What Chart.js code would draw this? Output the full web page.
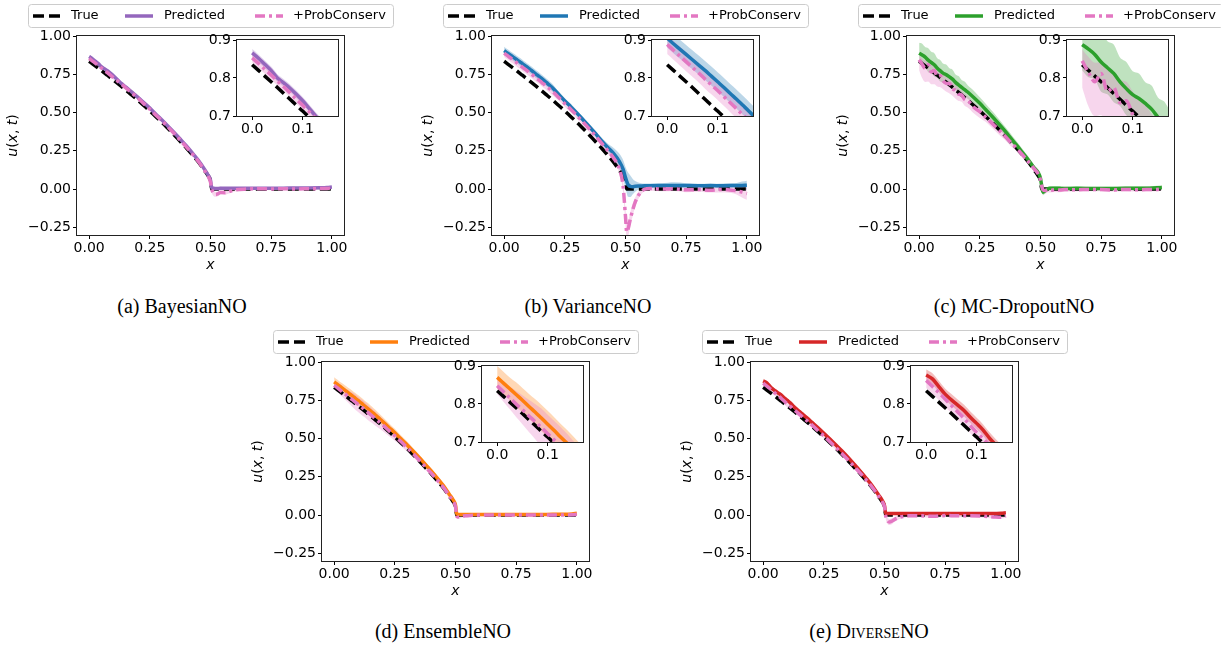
<!DOCTYPE html>
<html>
<head>
<meta charset="utf-8">
<script src="https://cdn.jsdelivr.net/npm/chart.js@4.4.1/dist/chart.umd.min.js"></script>
<style>
  html, body { margin: 0; padding: 0; background: #fff; width: 1221px; height: 645px; overflow: hidden; }
  canvas { position: absolute; }
  .cap { position: absolute; font-family: 'Liberation Serif', 'Times New Roman', serif; font-size: 20px;
         color: #000; white-space: nowrap; transform: translateX(-50%); line-height: 20px; }
  .sc { font-variant: small-caps; }
</style>
</head>
<body>
<script>
// Grid of x positions shared by every curve
const xs = [0, 0.0125, 0.025, 0.0375, 0.05, 0.0625, 0.075, 0.0875, 0.1, 0.1125, 0.125, 0.1375, 0.15, 0.1625, 0.175, 0.1875, 0.2,
  0.225, 0.25, 0.275, 0.3, 0.325, 0.35, 0.375, 0.4, 0.425, 0.45, 0.475, 0.49, 0.5, 0.505, 0.51,
  0.52, 0.53, 0.54, 0.56, 0.58, 0.6,
  0.65, 0.7, 0.75, 0.8, 0.85, 0.9, 0.95, 0.98, 1.0];

// Reference solution u(x, t)
const uTrue = [0.835, 0.820, 0.805, 0.790, 0.775, 0.759, 0.744, 0.728, 0.713, 0.697, 0.681, 0.665, 0.648, 0.632, 0.615, 0.598, 0.581,
  0.546, 0.511, 0.473, 0.436, 0.396, 0.355, 0.312, 0.270, 0.225, 0.178, 0.122, 0.088, 0.055, 0.000, 0.000,
  0, 0, 0, 0, 0, 0,
  0, 0, 0, 0, 0, 0, 0, 0, 0];

// (a) BayesianNO
const predA = [0.866, 0.852, 0.836, 0.820, 0.800, 0.787, 0.773, 0.757, 0.740, 0.721, 0.701, 0.684, 0.668, 0.652, 0.635, 0.618, 0.601,
  0.565, 0.529, 0.489, 0.451, 0.411, 0.370, 0.327, 0.283, 0.236, 0.188, 0.130, 0.092, 0.058, 0.010, 0.005,
  0.004, 0.004, 0.005, 0.005, 0.005, 0.005,
  0.005, 0.006, 0.006, 0.006, 0.007, 0.007, 0.008, 0.010, 0.014];
const predBandA = [0.010, 0.010, 0.010, 0.010, 0.010, 0.010, 0.010, 0.010, 0.010, 0.010, 0.010, 0.010, 0.010, 0.010, 0.010, 0.010, 0.010,
  0.008, 0.008, 0.008, 0.008, 0.008, 0.008, 0.008, 0.008, 0.010, 0.010, 0.012, 0.015, 0.020, 0.020, 0.015,
  0.010, 0.010, 0.010, 0.008, 0.008, 0.008,
  0.006, 0.006, 0.006, 0.006, 0.006, 0.006, 0.006, 0.008, 0.008];
const pcA = [0.853, 0.838, 0.823, 0.808, 0.792, 0.777, 0.761, 0.744, 0.728, 0.712, 0.695, 0.679, 0.662, 0.646, 0.629, 0.612, 0.595,
  0.558, 0.522, 0.483, 0.445, 0.405, 0.363, 0.320, 0.276, 0.230, 0.180, 0.122, 0.085, 0.045, 0.000, -0.020,
  -0.035, -0.032, -0.022, -0.024, -0.015, -0.006,
  0.000, 0.002, 0.001, 0.002, 0.001, 0.002, 0.003, 0.004, 0.008];
const pcBandA = [0.012, 0.012, 0.012, 0.012, 0.012, 0.012, 0.012, 0.012, 0.012, 0.012, 0.012, 0.012, 0.012, 0.012, 0.012, 0.012, 0.012,
  0.010, 0.010, 0.010, 0.010, 0.010, 0.010, 0.010, 0.010, 0.010, 0.010, 0.012, 0.015, 0.020, 0.020, 0.020,
  0.015, 0.015, 0.012, 0.012, 0.010, 0.010,
  0.008, 0.008, 0.008, 0.008, 0.008, 0.008, 0.008, 0.008, 0.008];

// (b) VarianceNO
const predB = [0.905, 0.890, 0.876, 0.862, 0.848, 0.834, 0.820, 0.805, 0.790, 0.775, 0.759, 0.744, 0.728, 0.712, 0.695, 0.678, 0.660,
  0.618, 0.576, 0.537, 0.496, 0.453, 0.410, 0.365, 0.318, 0.275, 0.235, 0.180, 0.130, 0.075, 0.050, 0.030,
  0.018, 0.016, 0.018, 0.020, 0.022, 0.022,
  0.023, 0.024, 0.023, 0.022, 0.023, 0.022, 0.023, 0.024, 0.025];
const predBandB = [0.025, 0.025, 0.025, 0.025, 0.025, 0.025, 0.025, 0.025, 0.025, 0.025, 0.025, 0.025, 0.025, 0.025, 0.025, 0.025, 0.025,
  0.018, 0.018, 0.018, 0.018, 0.018, 0.018, 0.020, 0.020, 0.025, 0.035, 0.050, 0.060, 0.070, 0.075, 0.080,
  0.070, 0.050, 0.035, 0.020, 0.015, 0.015,
  0.015, 0.020, 0.015, 0.012, 0.012, 0.015, 0.015, 0.025, 0.030];
const pcB = [0.888, 0.873, 0.858, 0.843, 0.828, 0.813, 0.797, 0.782, 0.767, 0.751, 0.735, 0.719, 0.703, 0.687, 0.670, 0.654, 0.637,
  0.598, 0.558, 0.520, 0.480, 0.438, 0.395, 0.350, 0.303, 0.255, 0.205, 0.130, 0.020, -0.180, -0.280, -0.265,
  -0.195, -0.135, -0.085, -0.025, 0.000, 0.004,
  0.000, 0.002, -0.005, -0.003, -0.008, -0.002, -0.010, -0.020, -0.030];
const pcBandB = [0.025, 0.025, 0.025, 0.025, 0.025, 0.025, 0.025, 0.025, 0.025, 0.025, 0.025, 0.025, 0.025, 0.025, 0.025, 0.025, 0.025,
  0.020, 0.020, 0.020, 0.020, 0.020, 0.020, 0.020, 0.020, 0.020, 0.020, 0.030, 0.040, 0.050, 0.050, 0.050,
  0.045, 0.040, 0.030, 0.020, 0.015, 0.015,
  0.015, 0.015, 0.015, 0.015, 0.015, 0.020, 0.020, 0.035, 0.040];

// (c) MC-DropoutNO
const predC = [0.888, 0.876, 0.862, 0.842, 0.827, 0.812, 0.790, 0.772, 0.756, 0.746, 0.733, 0.718, 0.697, 0.680, 0.665, 0.650, 0.634,
  0.598, 0.560, 0.518, 0.476, 0.432, 0.386, 0.338, 0.290, 0.240, 0.190, 0.135, 0.110, 0.070, 0.020, -0.020,
  -0.010, 0.002, 0.005, 0.006, 0.005, 0.004,
  0.005, 0.004, 0.003, 0.004, 0.005, 0.005, 0.006, 0.008, 0.010];
const predBandC = [0.068, 0.074, 0.066, 0.078, 0.070, 0.076, 0.064, 0.070, 0.062, 0.066, 0.056, 0.062, 0.052, 0.058, 0.048, 0.052, 0.044,
  0.044, 0.040, 0.038, 0.035, 0.032, 0.030, 0.028, 0.025, 0.024, 0.022, 0.020, 0.020, 0.022, 0.025, 0.020,
  0.015, 0.012, 0.012, 0.012, 0.012, 0.012,
  0.012, 0.012, 0.012, 0.012, 0.012, 0.012, 0.012, 0.014, 0.015];
const pcC = [0.845, 0.815, 0.790, 0.812, 0.765, 0.775, 0.735, 0.740, 0.705, 0.690, 0.690, 0.655, 0.645, 0.620, 0.615, 0.585, 0.578,
  0.535, 0.505, 0.468, 0.430, 0.392, 0.352, 0.310, 0.270, 0.225, 0.180, 0.130, 0.100, 0.060, 0.020, -0.005,
  -0.010, -0.005, -0.008, -0.004, -0.006, -0.003,
  -0.004, -0.002, -0.003, -0.006, -0.002, -0.004, -0.003, -0.002, 0.002];
const pcDownC = [0.070, 0.090, 0.090, 0.110, 0.080, 0.090, 0.065, 0.075, 0.055, 0.055, 0.065, 0.045, 0.055, 0.045, 0.045, 0.040, 0.045,
  0.040, 0.040, 0.030, 0.030, 0.030, 0.025, 0.025, 0.020, 0.020, 0.020, 0.020, 0.020, 0.020, 0.025, 0.025,
  0.020, 0.015, 0.015, 0.015, 0.015, 0.015,
  0.012, 0.012, 0.012, 0.012, 0.012, 0.012, 0.012, 0.012, 0.012];
const pcUpC = [0.030, 0.040, 0.050, 0.030, 0.060, 0.040, 0.060, 0.050, 0.060, 0.050, 0.040, 0.050, 0.040, 0.040, 0.030, 0.040, 0.030,
  0.030, 0.030, 0.025, 0.025, 0.020, 0.020, 0.020, 0.020, 0.020, 0.020, 0.020, 0.020, 0.020, 0.020, 0.020,
  0.012, 0.012, 0.012, 0.012, 0.012, 0.012,
  0.012, 0.012, 0.012, 0.012, 0.012, 0.012, 0.012, 0.012, 0.012];

// (d) EnsembleNO
const predD = [0.870, 0.855, 0.840, 0.825, 0.810, 0.794, 0.779, 0.763, 0.747, 0.731, 0.714, 0.698, 0.681, 0.664, 0.647, 0.629, 0.611,
  0.574, 0.538, 0.498, 0.460, 0.419, 0.377, 0.333, 0.289, 0.242, 0.193, 0.135, 0.100, 0.065, 0.010, 0.004,
  0.003, 0.003, 0.003, 0.003, 0.003, 0.003,
  0.003, 0.003, 0.004, 0.004, 0.004, 0.005, 0.005, 0.007, 0.012];
const predBandD = [0.030, 0.030, 0.030, 0.032, 0.032, 0.033, 0.034, 0.035, 0.035, 0.035, 0.035, 0.035, 0.035, 0.034, 0.033, 0.032, 0.030,
  0.028, 0.026, 0.024, 0.022, 0.020, 0.018, 0.016, 0.015, 0.015, 0.015, 0.015, 0.015, 0.015, 0.012, 0.010,
  0.008, 0.008, 0.008, 0.008, 0.008, 0.008,
  0.006, 0.006, 0.006, 0.006, 0.006, 0.006, 0.006, 0.006, 0.006];
const pcD = [0.848, 0.832, 0.816, 0.800, 0.785, 0.769, 0.754, 0.738, 0.722, 0.706, 0.690, 0.673, 0.656, 0.640, 0.623, 0.606, 0.589,
  0.553, 0.518, 0.480, 0.442, 0.402, 0.360, 0.317, 0.274, 0.229, 0.181, 0.124, 0.090, 0.055, -0.008, -0.012,
  -0.010, -0.006, -0.004, -0.002, -0.001, 0.000,
  0.000, 0.000, 0.001, 0.000, 0.001, 0.000, 0.001, 0.002, 0.005];
const pcBandD = [0.022, 0.026, 0.030, 0.034, 0.038, 0.042, 0.046, 0.050, 0.050, 0.050, 0.050, 0.050, 0.048, 0.046, 0.044, 0.042, 0.040,
  0.036, 0.032, 0.028, 0.025, 0.022, 0.020, 0.020, 0.020, 0.020, 0.018, 0.016, 0.015, 0.015, 0.012, 0.012,
  0.010, 0.010, 0.010, 0.010, 0.010, 0.010,
  0.006, 0.006, 0.006, 0.006, 0.006, 0.006, 0.006, 0.006, 0.006];

// (e) DiverseNO
const predE = [0.876, 0.866, 0.846, 0.826, 0.811, 0.797, 0.783, 0.765, 0.749, 0.732, 0.711, 0.693, 0.676, 0.659, 0.642, 0.625, 0.607,
  0.572, 0.535, 0.497, 0.458, 0.418, 0.376, 0.332, 0.287, 0.240, 0.190, 0.133, 0.098, 0.062, 0.012, 0.010,
  0.010, 0.010, 0.010, 0.010, 0.010, 0.010,
  0.010, 0.011, 0.010, 0.011, 0.010, 0.011, 0.010, 0.012, 0.015];
const predBandE = [0.015, 0.015, 0.015, 0.015, 0.015, 0.015, 0.015, 0.015, 0.015, 0.015, 0.015, 0.015, 0.015, 0.015, 0.015, 0.015, 0.015,
  0.012, 0.012, 0.012, 0.012, 0.012, 0.012, 0.012, 0.012, 0.012, 0.012, 0.014, 0.015, 0.015, 0.015, 0.012,
  0.008, 0.008, 0.008, 0.008, 0.008, 0.008,
  0.006, 0.006, 0.006, 0.006, 0.006, 0.006, 0.006, 0.006, 0.006];
const pcE = [0.862, 0.846, 0.830, 0.813, 0.796, 0.779, 0.762, 0.743, 0.725, 0.709, 0.692, 0.675, 0.658, 0.641, 0.624, 0.607, 0.590,
  0.552, 0.517, 0.479, 0.441, 0.401, 0.360, 0.317, 0.274, 0.229, 0.180, 0.124, 0.088, 0.053, -0.005, -0.030,
  -0.045, -0.040, -0.030, -0.015, -0.008, -0.005,
  -0.005, -0.008, -0.003, -0.005, -0.004, -0.006, -0.012, -0.015, -0.005];
const pcBandE = [0.020, 0.020, 0.020, 0.020, 0.020, 0.020, 0.020, 0.020, 0.020, 0.020, 0.020, 0.020, 0.020, 0.020, 0.020, 0.020, 0.020,
  0.015, 0.015, 0.015, 0.015, 0.015, 0.015, 0.015, 0.015, 0.015, 0.015, 0.015, 0.018, 0.020, 0.020, 0.020,
  0.020, 0.020, 0.015, 0.012, 0.010, 0.010,
  0.010, 0.010, 0.010, 0.010, 0.010, 0.010, 0.010, 0.010, 0.010];

// Axis ticks
const xTicks = [0, 0.25, 0.5, 0.75, 1.0];
const xTickLabels = ['0.00', '0.25', '0.50', '0.75', '1.00'];
const yTicks = [-0.25, 0, 0.25, 0.5, 0.75, 1.0];
const yTickLabels = ['\u22120.25', '0.00', '0.25', '0.50', '0.75', '1.00'];
const insetXTicks = [0, 0.1];
const insetXTickLabels = ['0.0', '0.1'];
const insetYTicks = [0.7, 0.8, 0.9];
const insetYTickLabels = ['0.7', '0.8', '0.9'];

const legendLabels = ['True', 'Predicted', '+ProbConserv'];

// ---------------------------------------------------------------------------
const FONT = '"DejaVu Sans", sans-serif';
const PINK = '#e377c2';
const TRUE_DASH = [11, 5];
const PC_DASH = [10, 4, 3, 4];
const LW = 3.5;

const panels = [
  { L: 77,  T: 36,  color: '#9467bd', pred: predA, predUp: predBandA, predDown: predBandA, pc: pcA, pcUp: pcBandA, pcDown: pcBandA,
    cap: '(a) BayesianNO', capX: 182, capY: 296 },
  { L: 492, T: 36,  color: '#1f77b4', pred: predB, predUp: predBandB, predDown: predBandB, pc: pcB, pcUp: pcBandB, pcDown: pcBandB,
    cap: '(b) VarianceNO', capX: 588, capY: 296 },
  { L: 907, T: 36,  color: '#2ca02c', pred: predC, predUp: predBandC, predDown: predBandC, pc: pcC, pcUp: pcUpC, pcDown: pcDownC,
    cap: '(c) MC-DropoutNO', capX: 1014, capY: 296 },
  { L: 322, T: 362, color: '#ff7f0e', pred: predD, predUp: predBandD, predDown: predBandD, pc: pcD, pcUp: pcBandD, pcDown: pcBandD,
    cap: '(d) EnsembleNO', capX: 443, capY: 621 },
  { L: 751, T: 362, color: '#d62728', pred: predE, predUp: predBandE, predDown: predBandE, pc: pcE, pcUp: pcBandE, pcDown: pcBandE,
    cap: '(e) D<span class="sc">iverse</span>NO', capX: 869, capY: 621 }
];

const AX_W = 267, AX_H = 199;   // main axes size
const PAD_L = 77, PAD_T = 36;   // axes offset inside the main canvas
const CAN_W = 400, CAN_H = 280;

function rgba(hex, a) {
  const n = parseInt(hex.slice(1), 16);
  return `rgba(${(n >> 16) & 255},${(n >> 8) & 255},${n & 255},${a})`;
}

function pts(arr, spread, sign) {
  return xs.map((x, i) => ({ x, y: arr[i] + (spread ? sign * spread[i] : 0) }));
}

function makeDatasets(p) {
  const line = (data, color, dash) => ({
    data, borderColor: color, borderWidth: LW, borderDash: dash, borderCapStyle: 'butt', borderJoinStyle: 'round',
    pointRadius: 0, fill: false, cubicInterpolationMode: 'monotone', clip: 0
  });
  const band = (data, bg, fill) => ({
    data, borderColor: 'rgba(0,0,0,0)', borderWidth: 0, pointRadius: 0, backgroundColor: bg, fill,
    cubicInterpolationMode: 'monotone', clip: 0
  });
  // first dataset is painted last (on top)
  return [
    line(pts(p.pc), PINK, PC_DASH),
    line(pts(p.pred), p.color, []),
    line(pts(uTrue), '#000', TRUE_DASH),
    band(pts(p.pc, p.pcUp, 1), rgba(PINK, 0.3), '+1'),
    band(pts(p.pc, p.pcDown, -1), 'rgba(0,0,0,0)', false),
    band(pts(p.pred, p.predUp, 1), rgba(p.color, 0.3), '+1'),
    band(pts(p.pred, p.predDown, -1), 'rgba(0,0,0,0)', false)
  ];
}

function axis(min, max, ticks, labels, fit, padding) {
  return {
    type: 'linear', min, max,
    afterBuildTicks: s => { s.ticks = ticks.map(v => ({ value: v })); },
    afterFit: fit,
    ticks: { callback: (v, i) => labels[i], autoSkip: false, maxRotation: 0, minRotation: 0, padding,
             color: '#000', font: { family: FONT, size: 14 } },
    grid: { drawOnChartArea: false, drawTicks: true, tickLength: 4, color: '#000', lineWidth: 1 },
    border: { display: false }
  };
}

function drawFrame(chart) {
  const a = chart.chartArea, c = chart.ctx;
  c.save();
  c.strokeStyle = '#222';
  c.lineWidth = 1;
  c.strokeRect(Math.round(a.left) - 0.5, Math.round(a.top) - 0.5,
               Math.round(a.right) - Math.round(a.left) + 1, Math.round(a.bottom) - Math.round(a.top) + 1);
  c.restore();
}

function drawYTitle(c, cx, cy) {
  const parts = [['u', true], ['(', false], ['x', true], [', ', false], ['t', true], [')', false]];
  c.save();
  c.translate(cx, cy);
  c.rotate(-Math.PI / 2);
  c.fillStyle = '#000';
  c.textBaseline = 'middle';
  c.textAlign = 'left';
  let total = 0;
  const widths = parts.map(([s, it]) => { c.font = (it ? 'italic ' : '') + '14px ' + FONT; const w = c.measureText(s).width; total += w; return w; });
  let x = -total / 2;
  parts.forEach(([s, it], i) => { c.font = (it ? 'italic ' : '') + '14px ' + FONT; c.fillText(s, x, 0); x += widths[i]; });
  c.restore();
}

function drawLegend(c, p) {
  const x0 = PAD_L - 49, y0 = PAD_T - 32, w = 365, h = 23;
  const handleX = [5, 97, 227], textX = [43, 136, 265];
  const styles = [{ color: '#000', dash: TRUE_DASH }, { color: p.color, dash: [] }, { color: PINK, dash: PC_DASH }];
  c.save();
  c.beginPath();
  if (c.roundRect) c.roundRect(x0 + 0.5, y0 + 0.5, w, h, 3); else c.rect(x0 + 0.5, y0 + 0.5, w, h);
  c.fillStyle = 'rgba(255,255,255,0.8)';
  c.fill();
  c.strokeStyle = '#cccccc';
  c.lineWidth = 1;
  c.stroke();
  const cy = y0 + h / 2 + 0.5;
  styles.forEach((s, i) => {
    c.beginPath();
    c.setLineDash(s.dash);
    c.lineDashOffset = 0;
    c.lineCap = 'butt';
    c.strokeStyle = s.color;
    c.lineWidth = LW;
    c.moveTo(x0 + handleX[i], cy);
    c.lineTo(x0 + handleX[i] + 28, cy);
    c.stroke();
    c.setLineDash([]);
    c.fillStyle = '#000';
    c.font = '13px ' + FONT;
    c.textBaseline = 'middle';
    c.textAlign = 'left';
    c.fillText(legendLabels[i], x0 + textX[i], cy);
  });
  c.restore();
}

function addCanvas(x, y, w, h) {
  const cv = document.createElement('canvas');
  cv.width = w; cv.height = h;
  cv.style.left = x + 'px'; cv.style.top = y + 'px';
  cv.style.width = w + 'px'; cv.style.height = h + 'px';
  document.body.appendChild(cv);
  return cv;
}

panels.forEach(p => {
  // main axes
  const cl = p.L - PAD_L, ct = p.T - PAD_T;
  const cw = Math.min(CAN_W, 1221 - cl);
  const mainCv = addCanvas(cl, ct, cw, CAN_H);
  const mainDeco = {
    id: 'mainDeco',
    afterDatasetsDraw(chart) { drawFrame(chart); },
    afterDraw(chart) {
      const c = chart.ctx;
      drawYTitle(c, PAD_L - 64, PAD_T + AX_H / 2);
      c.save();
      c.fillStyle = '#000';
      c.font = 'italic 14px ' + FONT;
      c.textAlign = 'center';
      c.textBaseline = 'middle';
      c.fillText('x', PAD_L + AX_W / 2, PAD_T + AX_H + 30);
      c.restore();
      drawLegend(c, p);
    }
  };
  new Chart(mainCv, {
    type: 'line',
    data: { datasets: makeDatasets(p) },
    options: {
      responsive: false, animation: false, events: [], devicePixelRatio: 1,
      layout: { padding: { left: 0, top: PAD_T, right: cw - PAD_L - AX_W, bottom: 0 } },
      plugins: { legend: { display: false }, tooltip: { enabled: false } },
      scales: {
        x: axis(-0.05, 1.05, xTicks, xTickLabels, s => { s.height = CAN_H - PAD_T - AX_H; }, 1),
        y: axis(-0.3, 1.0, yTicks, yTickLabels, s => { s.width = PAD_L; }, 2)
      }
    },
    plugins: [mainDeco]
  });

  // zoomed inset near x = 0
  const iL = Math.round(p.L + 0.6 * AX_W), iT = Math.round(p.T + 0.02 * AX_H);
  const iW = Math.round(0.38 * AX_W), iH = Math.round(0.38 * AX_H);
  const padL = 40, padT = 12, padR = 8, padB = 26;
  const insetCv = addCanvas(iL - padL, iT - padT, iW + padL + padR, iH + padT + padB);
  const insetDeco = {
    id: 'insetDeco',
    beforeDatasetsDraw(chart) {
      const a = chart.chartArea, c = chart.ctx;
      c.save(); c.fillStyle = '#fff'; c.fillRect(a.left, a.top, a.right - a.left, a.bottom - a.top); c.restore();
    },
    afterDatasetsDraw(chart) { drawFrame(chart); }
  };
  new Chart(insetCv, {
    type: 'line',
    data: { datasets: makeDatasets(p) },
    options: {
      responsive: false, animation: false, events: [], devicePixelRatio: 1,
      layout: { padding: { left: 0, top: padT, right: padR, bottom: 0 } },
      plugins: { legend: { display: false }, tooltip: { enabled: false } },
      scales: {
        x: axis(-0.03, 0.17, insetXTicks, insetXTickLabels, s => { s.height = padB; }, 1),
        y: axis(0.7, 0.9, insetYTicks, insetYTickLabels, s => { s.width = padL; }, 2)
      }
    },
    plugins: [insetDeco]
  });

  // sub-figure caption
  const cap = document.createElement('div');
  cap.className = 'cap';
  cap.style.left = p.capX + 'px';
  cap.style.top = p.capY + 'px';
  cap.innerHTML = p.cap;
  document.body.appendChild(cap);
});
</script>
</body>
</html>
